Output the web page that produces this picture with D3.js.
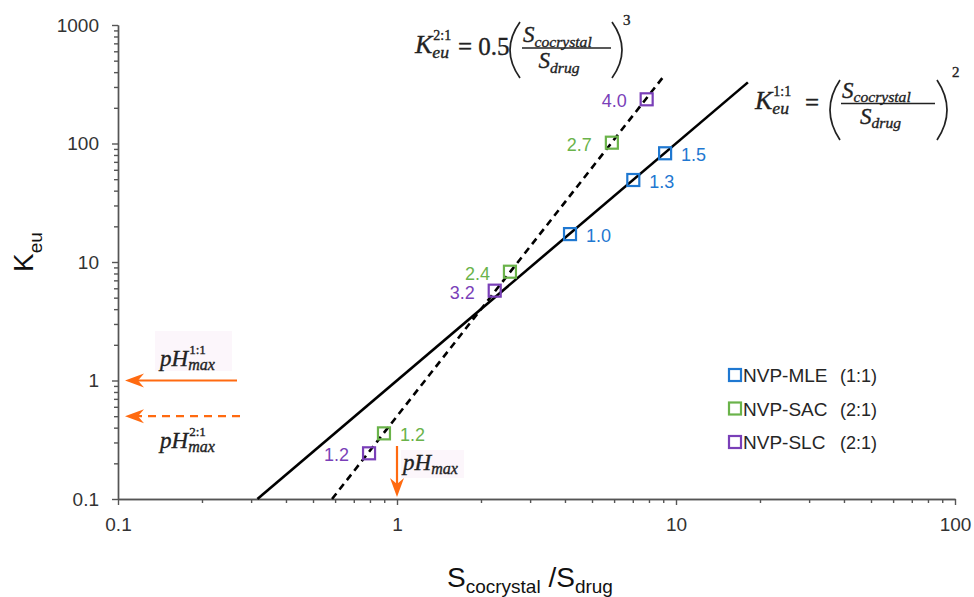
<!DOCTYPE html>
<html>
<head>
<meta charset="utf-8">
<script src="https://cdn.jsdelivr.net/npm/d3@7"></script>
<style>
  body { margin: 0; background: #fff; }
  svg { display: block; }
</style>
</head>
<body>
<svg id="chart" width="974" height="597"></svg>
<script>
// values: S_cocrystal/S_drug and K_eu, with the pH max labels
var mleX = [4.17, 7.03, 9.14]
var mleK = [17.2, 49.2, 82.7]
var mlePH = ['1.0', '1.3', '1.5']
var sacX = [0.898, 2.54, 5.89]
var sacK = [0.358, 8.28, 101.6]
var sacPH = ['1.2', '2.4', '2.7']
var slcX = [0.794, 2.24, 7.85]
var slcK = [0.243, 5.73, 236]
var slcPH = ['1.2', '3.2', '4.0']

// model lines (end points)
var line11 = [[0.316, 0.1], [18.1, 328]]
var line21 = [[0.585, 0.1], [9.14, 382]]

var pHmaxK = [1, 0.5]   // K_eu where the 1:1 and 2:1 pHmax arrows sit
var pHmaxX = 1          // ratio where the pHmax arrow points

var xTicks = [0.1, 1, 10, 100]
var yTicks = [0.1, 1, 10, 100, 1000]
var legendNames = ['NVP-MLE', 'NVP-SAC', 'NVP-SLC']
var legendRatio = ['(1:1)', '(2:1)', '(2:1)']

var blue = '#1f78d1', green = '#6ab34a', purple = '#7a3fb8', orange = '#ff6a10'

var series = [
  { x: mleX, k: mleK, ph: mlePH, color: blue },
  { x: sacX, k: sacK, ph: sacPH, color: green },
  { x: slcX, k: slcK, ph: slcPH, color: purple }
]

var svg = d3.select('#chart')

var x = d3.scaleLog().domain([0.1, 100]).range([118, 955])
var y = d3.scaleLog().domain([0.1, 1000]).range([499, 25])

function minors(majors) {
  var out = []
  majors.slice(0, -1).forEach(function (d) {
    for (var i = 2; i <= 9; i++) out.push(d * i)
  })
  return out
}

// axes
var axisColor = '#555'
function styleAxis(g) {
  g.selectAll('path, line').attr('stroke', axisColor).attr('stroke-width', 1.4)
  g.selectAll('text').attr('fill', '#333').attr('font-family', 'Arial, Liberation Sans, sans-serif').attr('font-size', 19)
}
svg.append('g')
    .attr('transform', 'translate(0,499)')
    .call(d3.axisBottom(x).tickValues(minors(xTicks)).tickSize(4).tickSizeOuter(0).tickFormat(''))
    .call(styleAxis)
svg.append('g')
    .attr('transform', 'translate(0,499)')
    .call(d3.axisBottom(x).tickValues(xTicks).tickSize(6).tickSizeOuter(0).tickPadding(13).tickFormat(function (d) { return d }))
    .call(styleAxis)
svg.append('g')
    .attr('transform', 'translate(118,0)')
    .call(d3.axisLeft(y).tickValues(minors(yTicks)).tickSize(4).tickSizeOuter(0).tickFormat(''))
    .call(styleAxis)
svg.append('g')
    .attr('transform', 'translate(118,0)')
    .call(d3.axisLeft(y).tickValues(yTicks).tickSize(6).tickSizeOuter(0).tickPadding(13).tickFormat(function (d) { return d }))
    .call(styleAxis)

// axis titles
var sans = 'Arial, Liberation Sans, sans-serif'
var yt = svg.append('text')
    .attr('transform', 'translate(33,272) rotate(-90)')
    .attr('font-family', sans).attr('font-size', 28).attr('fill', '#111')
yt.append('tspan').text('K')
yt.append('tspan').attr('font-size', 19).attr('dy', 9).text('eu')

var xt = svg.append('text')
    .attr('x', 447).attr('y', 587)
    .attr('font-family', sans).attr('font-size', 28).attr('fill', '#111')
xt.append('tspan').text('S')
xt.append('tspan').attr('font-size', 19).attr('dy', 6).text('cocrystal')
xt.append('tspan').attr('dy', -6).text(' /S')
xt.append('tspan').attr('font-size', 19).attr('dy', 6).text('drug')

// model lines
var line = d3.line().x(function (d) { return x(d[0]) }).y(function (d) { return y(d[1]) })
svg.append('path').datum(line11).attr('d', line)
    .attr('fill', 'none').attr('stroke', '#000').attr('stroke-width', 2.6)
svg.append('path').datum(line21).attr('d', line)
    .attr('fill', 'none').attr('stroke', '#000').attr('stroke-width', 2.6)
    .attr('stroke-dasharray', '7,5')

// data squares + pH labels
var rightSide = function (s, i) { return s.color === blue || (s.color === green && i === 0) }
series.forEach(function (s) {
  var pts = s.x.map(function (v, i) { return { x: v, k: s.k[i], ph: s.ph[i], i: i } })
  svg.append('g').selectAll('rect').data(pts).join('rect')
      .attr('x', function (d) { return x(d.x) - 6 })
      .attr('y', function (d) { return y(d.k) - 6 })
      .attr('width', 12).attr('height', 12)
      .attr('fill', 'none').attr('stroke', s.color).attr('stroke-width', 2.2)
  svg.append('g').selectAll('text').data(pts).join('text')
      .attr('x', function (d) { return rightSide(s, d.i) ? x(d.x) + 16 : x(d.x) - 20 })
      .attr('y', function (d) { return y(d.k) + 8 })
      .attr('text-anchor', function (d) { return rightSide(s, d.i) ? 'start' : 'end' })
      .attr('font-family', sans).attr('font-size', 18).attr('fill', s.color)
      .text(function (d) { return d.ph })
})

// legend
var lg = svg.append('g')
legendNames.forEach(function (n, i) {
  var cy = 375 + i * 33.5
  lg.append('rect').attr('x', 729).attr('y', cy - 6).attr('width', 12).attr('height', 12)
      .attr('fill', 'none').attr('stroke', series[i].color).attr('stroke-width', 2.2)
  lg.append('text').attr('x', 743).attr('y', cy + 7)
      .attr('font-family', sans).attr('font-size', 19).attr('fill', '#262626').text(n)
  lg.append('text').attr('x', 840).attr('y', cy + 7)
      .attr('font-family', sans).attr('font-size', 18).attr('fill', '#262626').text(legendRatio[i])
})

// math-style text helpers
var serif = 'Liberation Serif, DejaVu Serif, serif'
function piece(g, x0, y0, str, fs, italic) {
  var t = g.append('text').attr('x', x0).attr('y', y0)
      .attr('font-family', serif).attr('font-size', fs)
      .attr('font-style', italic ? 'italic' : 'normal')
      .attr('fill', '#222').attr('stroke', '#222').attr('stroke-width', 0.35)
      .text(str)
  return x0 + t.node().getComputedTextLength()
}
function term(g, x0, y0, base, fs, sup, sub) {
  var e = piece(g, x0, y0, base, fs, true)
  var end = e
  if (sup) end = Math.max(end, piece(g, e + 1, y0 - fs * 0.5, sup, 14, false))
  if (sub) end = Math.max(end, piece(g, e, y0 + fs * 0.2, sub, fs * 0.68, true))
  return end
}
function paren(g, xEnd, top, bot, dir) {
  var mid = (top + bot) / 2
  g.append('path')
      .attr('d', 'M' + xEnd + ',' + top + 'Q' + (xEnd - 20 * dir) + ',' + mid + ' ' + xEnd + ',' + bot)
      .attr('fill', 'none').attr('stroke', '#222').attr('stroke-width', 1.7)
}
function fraction(g, x0, x1, yBar, fs) {
  term(g, x0 + 1, yBar - 6, 'S', fs, null, 'cocrystal')
  g.append('line').attr('x1', x0).attr('x2', x1).attr('y1', yBar).attr('y2', yBar)
      .attr('stroke', '#222').attr('stroke-width', 1.5)
  term(g, x0 + (x1 - x0) / 2 - 28, yBar + 20, 'S', fs, null, 'drug')
}

// K_eu 2:1 formula
var f2 = svg.append('g')
term(f2, 415, 53, 'K', 26, '2:1', 'eu')
piece(f2, 458, 55, '= 0.5', 25, false)
paren(f2, 520, 22, 78, 1)
fraction(f2, 522, 611, 48, 23)
paren(f2, 612, 22, 78, -1)
piece(f2, 623, 25, '3', 15, false)

// K_eu 1:1 formula
var f1 = svg.append('g')
term(f1, 755, 109, 'K', 26, '1:1', 'eu')
piece(f1, 805, 111, '=', 25, false)
paren(f1, 840, 80, 140, 1)
fraction(f1, 841, 935, 103.5, 23)
paren(f1, 937, 80, 140, -1)
piece(f1, 952, 77, '2', 15, false)

// pH max arrows
function arrowHead(g, tx, ty, angle) {
  g.append('path')
      .attr('d', 'M0,0L19,-7L13,0L19,7Z')
      .attr('transform', 'translate(' + tx + ',' + ty + ') rotate(' + angle + ')')
      .attr('fill', orange)
}
var ar = svg.append('g')
ar.append('line').attr('x1', 237).attr('x2', 130)
    .attr('y1', y(pHmaxK[0])).attr('y2', y(pHmaxK[0]))
    .attr('stroke', orange).attr('stroke-width', 2.2)
arrowHead(ar, 125, y(pHmaxK[0]), 0)
ar.append('line').attr('x1', 240).attr('x2', 132)
    .attr('y1', y(pHmaxK[1])).attr('y2', y(pHmaxK[1]))
    .attr('stroke', orange).attr('stroke-width', 2.2).attr('stroke-dasharray', '8,6')
arrowHead(ar, 125, y(pHmaxK[1]), 0)
ar.append('line').attr('x1', x(pHmaxX)).attr('x2', x(pHmaxX))
    .attr('y1', 446).attr('y2', 490)
    .attr('stroke', orange).attr('stroke-width', 2.2)
arrowHead(ar, x(pHmaxX), y(0.1) - 2, -90)

// pH max labels
var pl = svg.append('g')
pl.append('rect').attr('x', 155).attr('y', 331).attr('width', 77).attr('height', 40).attr('fill', '#fcf6fb')
pl.append('rect').attr('x', 401).attr('y', 450).attr('width', 63).attr('height', 28).attr('fill', '#fcf6fb')
function phLabel(g, x0, y0, sup) {
  var e = piece(g, x0, y0, 'pH', 23, true)
  if (sup) piece(g, e + 1, y0 - 12, sup, 13, false)
  piece(g, e, y0 + 4, 'max', 16, true)
}
phLabel(pl, 160, 366, '1:1')
phLabel(pl, 160, 448, '2:1')
phLabel(pl, 403, 470, null)
</script>
</body>
</html>
